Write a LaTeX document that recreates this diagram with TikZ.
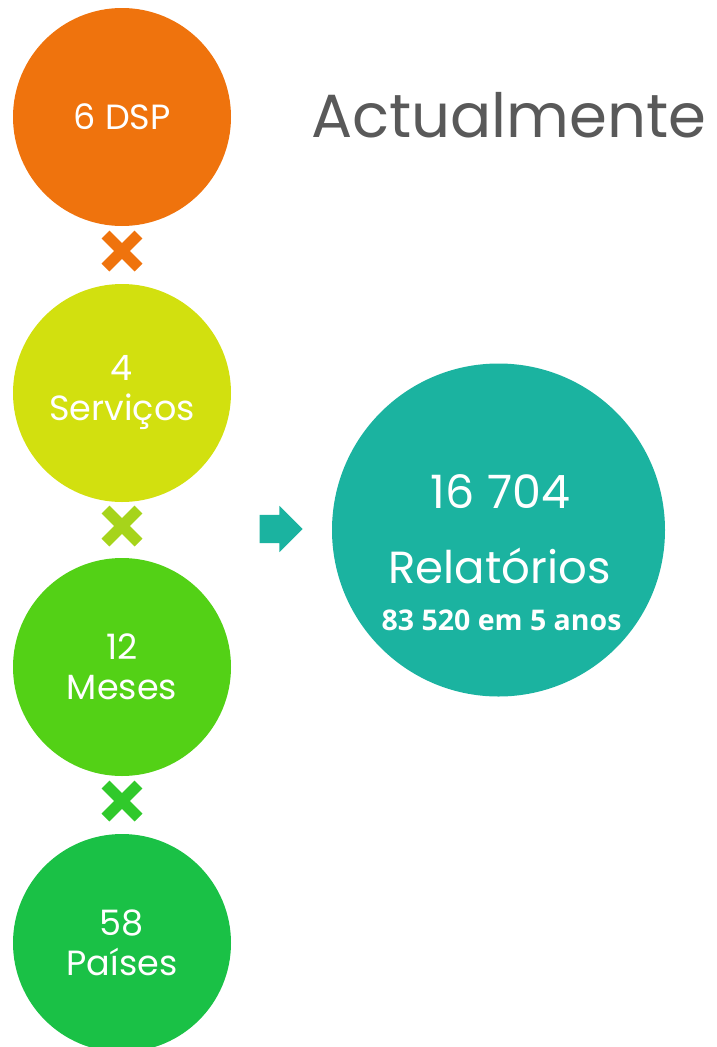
\documentclass[tikz,border=0pt]{standalone}
\usepackage{fontspec}
\setmainfont{Poppins}
\newfontfamily\boldfont{Open Sans}
\usetikzlibrary{calc,positioning,shapes.misc,shapes.arrows}
\definecolor{morange}{HTML}{EF730D}
\definecolor{mlime}{HTML}{D2E00F}
\definecolor{mlimex}{HTML}{A6D41B}
\definecolor{mgreen}{HTML}{53D116}
\definecolor{mgreenx}{HTML}{30C92B}
\definecolor{mdeep}{HTML}{1AC146}
\definecolor{mteal}{HTML}{1BB3A0}
\definecolor{mgrey}{HTML}{595959}
\tikzstyle{bubble}=[circle, minimum size=218pt, inner sep=0pt, text=white, align=center, font=\fontsize{35}{40}\selectfont]
\tikzstyle{bigbubble}=[circle, minimum size=333pt, inner sep=0pt, fill=mteal]
\tikzstyle{times}=[cross out, draw, line width=11pt, minimum size=22pt, inner sep=0pt]
\tikzstyle{pointer}=[single arrow, fill=mteal, minimum height=43pt, inner xsep=0pt, inner ysep=14pt, single arrow head extend=9pt]
\tikzstyle{inside}=[text=white, anchor=base, inner sep=0pt]

\begin{document}
\begin{tikzpicture}[x=1pt, y=-1pt, node distance=275pt, on grid]
    \useasboundingbox (0,0) rectangle (716,1047);

    \node[bubble, fill=morange] (c1) at (122,117) {6 DSP};
    \node[bubble, fill=mlime] (c2) [below=276pt of c1] {4\\Serviços};
    \node[bubble, fill=mgreen] (c3) [below=274pt of c2] {12\\Meses};
    \node[bubble, fill=mdeep] (c4) [below=276pt of c3] {58\\Países};

    \node[times, draw=morange] (x1) at ($(c1)!0.5!(c2)+(0,-4)$) {};
    \node[times, draw=mlimex] (x2) at ($(c2)!0.5!(c3)+(0,-4)$) {};
    \node[times, draw=mgreenx] (x3) at ($(c3)!0.5!(c4)+(0,-4)$) {};

    \node[pointer] (arr) at (274,529) {};

    \node[bigbubble] (big) at (498.5,530) {};
    \node[inside, font=\fontsize{46}{50}\selectfont] (num) at ($(big.center)+(2,-22)$) {16 704};
    \node[inside, font=\fontsize{45}{50}\selectfont] (rel) at ($(big.center)+(1,53)$) {Relatórios};
    \node[inside, font=\boldfont\bfseries\fontsize{28.5}{32}\selectfont] (tot) at ($(big.center)+(3,100)$) {83 520 em 5 anos};

    \node[anchor=base, text=mgrey, inner sep=0pt, font=\fontsize{61}{70}\selectfont] (title) at (509,137) {Actualmente};

\end{tikzpicture}
\end{document}
